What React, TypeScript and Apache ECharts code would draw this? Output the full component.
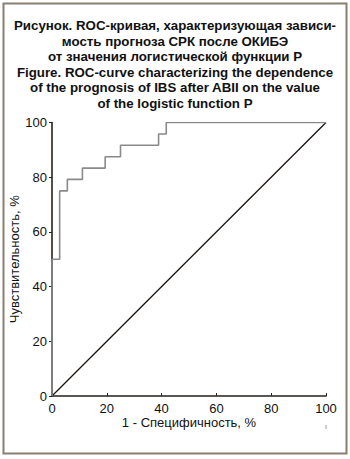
import React, { useEffect, useRef } from "react";
import * as echarts from "echarts";

// ROC curve: false positive rate (1 - specificity) vs. sensitivity, %
const fpr = [0, 0, 2.8, 5.6, 11.1, 19.4, 25, 38.9, 41.7, 100];
const tpr = [0, 50, 75, 79.2, 83.3, 87.5, 91.7, 95.8, 100, 100];
const refLine = [
  [0, 0],
  [100, 100],
];
const titleLines = [
  "Рисунок. ROC-кривая, характеризующая зависи-",
  "мость прогноза СРК после ОКИБЭ",
  "от значения логистической функции P",
  "Figure. ROC-curve characterizing the dependence",
  "of the prognosis of IBS after ABII on the value",
  "of the logistic function P",
];
const xName = "1 - Специфичность, %";
const yName = "Чувствительность, %";

const FONT = "'Liberation Sans', Arial, Helvetica, sans-serif";
const AXIS = "#2a2118";

export default function App() {
  const ref = useRef<HTMLDivElement>(null);
  useEffect(() => {
    if (!ref.current) return;
    const chart = echarts.init(ref.current, null, { renderer: "svg" });
    chart.setOption({
      animation: false,
      backgroundColor: "#ffffff",
      title: {
        text: titleLines.join("\n"),
        left: "center",
        top: 18,
        padding: 0,
        textStyle: {
          fontFamily: FONT,
          fontSize: 13.3,
          fontWeight: "bold",
          color: "#111",
          lineHeight: 15.5,
        },
      },
      grid: {
        left: 52,
        right: 24,
        top: 122.5,
        bottom: 63,
        containLabel: false,
        outerBoundsMode: "none",
      },
      xAxis: {
        type: "value",
        min: 0,
        max: 100,
        interval: 20,
        name: xName,
        nameLocation: "middle",
        nameGap: 20,
        nameMoveOverlap: false,
        nameTextStyle: { fontFamily: FONT, fontSize: 13, color: "#111" },
        axisLine: { lineStyle: { color: AXIS, width: 1.6 } },
        axisTick: { inside: true, length: 3, lineStyle: { color: AXIS } },
        axisLabel: { fontFamily: FONT, fontSize: 13, color: "#111", margin: 6 },
        splitLine: { show: false },
      },
      yAxis: {
        type: "value",
        min: 0,
        max: 100,
        interval: 20,
        name: yName,
        nameLocation: "middle",
        nameGap: 31,
        nameMoveOverlap: false,
        nameTextStyle: { fontFamily: FONT, fontSize: 13, color: "#111" },
        axisLine: { show: true, lineStyle: { color: AXIS, width: 1.6 } },
        axisTick: { show: true, length: 3, lineStyle: { color: AXIS } },
        axisLabel: { fontFamily: FONT, fontSize: 13, color: "#111", margin: 5 },
        splitLine: { show: false },
      },
      series: [
        {
          type: "line",
          data: refLine,
          symbol: "none",
          lineStyle: { color: "#1a1410", width: 1.3 },
          z: 2,
        },
        {
          type: "line",
          step: "end",
          data: fpr.map((x, i) => [x, tpr[i]]),
          symbol: "none",
          lineStyle: { color: "#8a8a8a", width: 1.6 },
          z: 3,
        },
      ],
      graphic: [
        {
          type: "rect",
          shape: { x: 3.5, y: 3.5, width: 343, height: 450 },
          style: { fill: "none", stroke: "#8a7f72", lineWidth: 2 },
          silent: true,
        },
        {
          type: "line",
          shape: { x1: 326, y1: 425, x2: 326, y2: 429 },
          style: { stroke: "#9a9a9a", lineWidth: 1 },
          silent: true,
        },
      ],
    });
    return () => chart.dispose();
  }, []);
  return (
    <div style={{ position: "absolute", left: 0, top: 0 }}>
      <div ref={ref} style={{ width: 350, height: 459 }} />
    </div>
  );
}
